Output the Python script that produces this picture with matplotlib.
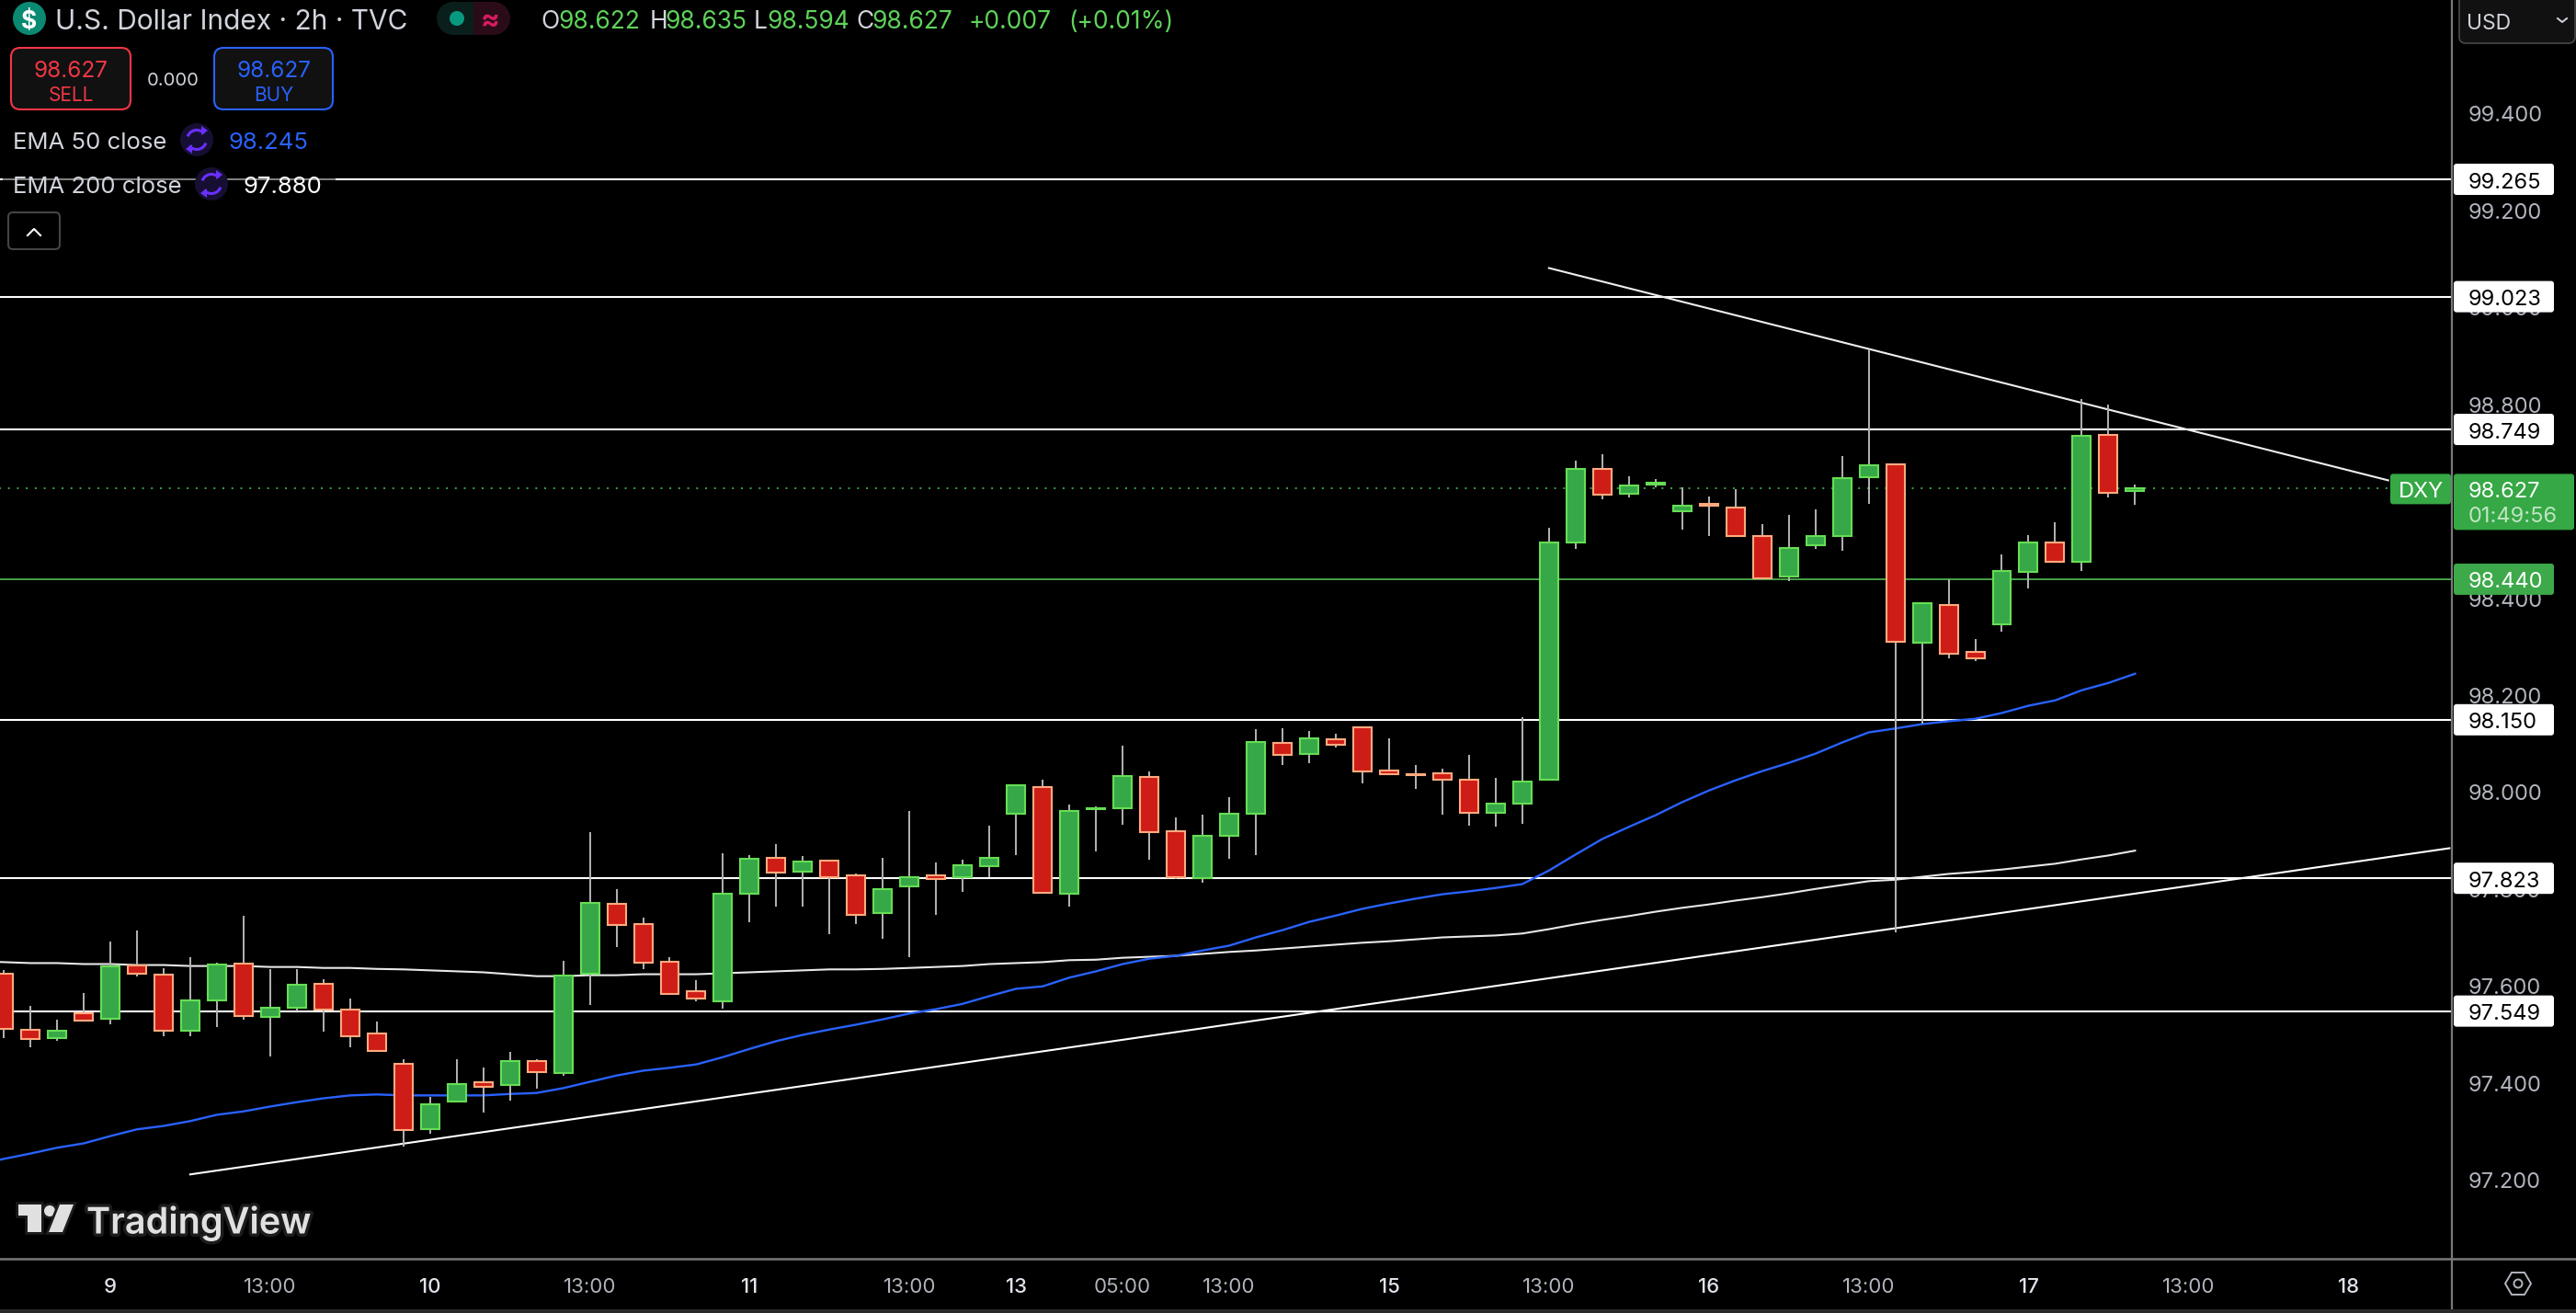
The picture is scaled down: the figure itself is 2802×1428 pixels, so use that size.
import numpy as np
import matplotlib
matplotlib.use('Agg')
import matplotlib.pyplot as plt
from matplotlib.patches import FancyBboxPatch, Rectangle, Circle, Ellipse, Polygon, Arc
import matplotlib.patheffects as pe

plt.rcParams['font.family'] = ['Inter', 'DejaVu Sans']

opens = [97.626,97.511,97.494,97.545,97.533,97.643,97.624,97.509,97.572,97.647,97.537,97.556,97.606,97.552,97.503,97.441,97.306,97.363,97.403,97.397,
         97.446,97.422,97.626,97.770,97.729,97.651,97.590,97.570,97.791,97.865,97.837,97.860,97.829,97.752,97.807,97.829,97.826,97.848,97.956,98.011,
         97.791,97.965,97.968,98.032,97.920,97.824,97.911,97.956,98.102,98.080,98.110,98.135,98.046,98.038,98.040,98.027,97.958,97.977,98.027,98.515,
         98.667,98.616,98.636,98.581,98.595,98.588,98.529,98.446,98.510,98.529,98.650,98.677,98.309,98.387,98.290,98.346,98.455,98.516,98.475,98.738,98.622]
highs = [97.633,97.559,97.532,97.587,97.693,97.716,97.638,97.661,97.648,97.746,97.635,97.636,97.614,97.574,97.528,97.449,97.371,97.449,97.432,97.464,
         97.449,97.652,97.919,97.800,97.741,97.661,97.612,97.874,97.870,97.893,97.868,97.860,97.832,97.866,97.961,97.856,97.862,97.932,98.015,98.027,
         97.976,97.972,98.097,98.044,97.948,97.955,97.991,98.130,98.133,98.126,98.122,98.135,98.111,98.056,98.050,98.077,98.031,98.156,98.547,98.684,
         98.697,98.652,98.646,98.629,98.610,98.625,98.553,98.572,98.585,98.695,98.914,98.677,98.393,98.439,98.317,98.492,98.530,98.558,98.811,98.800,98.635]
lows = [97.494,97.474,97.487,97.527,97.521,97.620,97.498,97.498,97.516,97.532,97.455,97.549,97.506,97.475,97.467,97.269,97.296,97.360,97.339,97.365,
        97.388,97.415,97.562,97.682,97.635,97.585,97.569,97.554,97.732,97.764,97.765,97.707,97.728,97.698,97.661,97.748,97.794,97.826,97.870,97.793,
        97.764,97.879,97.934,97.862,97.822,97.813,97.864,97.870,98.056,98.061,98.092,98.018,98.037,98.008,97.955,97.932,97.929,97.936,98.027,98.502,
        98.605,98.609,98.630,98.542,98.529,98.529,98.441,98.436,98.503,98.499,98.596,97.712,98.142,98.276,98.272,98.332,98.420,98.475,98.457,98.609,98.594]
closes = [97.513,97.492,97.509,97.530,97.642,97.626,97.509,97.571,97.645,97.539,97.556,97.604,97.552,97.497,97.467,97.304,97.357,97.399,97.393,97.446,
          97.423,97.623,97.772,97.727,97.649,97.585,97.575,97.791,97.864,97.835,97.858,97.826,97.748,97.801,97.826,97.822,97.850,97.865,98.015,97.793,
          97.962,97.968,98.034,97.919,97.826,97.911,97.956,98.104,98.078,98.112,98.099,98.044,98.037,98.035,98.026,97.958,97.977,98.023,98.516,98.667,
          98.614,98.633,98.639,98.591,98.592,98.529,98.441,98.505,98.529,98.649,98.675,98.311,98.391,98.286,98.277,98.457,98.516,98.475,98.736,98.618,98.627]

# both averages start one bar left of the first visible candle
ema50 = [97.232,97.244,97.255,97.267,97.276,97.291,97.305,97.312,97.322,97.335,97.342,97.352,97.361,97.369,97.375,97.377,97.375,97.375,97.375,97.375,97.378,
         97.380,97.390,97.403,97.416,97.426,97.432,97.439,97.454,97.471,97.487,97.500,97.511,97.521,97.532,97.544,97.553,97.564,97.580,97.595,97.600,
         97.618,97.631,97.646,97.657,97.663,97.674,97.684,97.701,97.716,97.733,97.746,97.760,97.771,97.781,97.790,97.796,97.803,97.811,97.839,97.872,
         97.904,97.929,97.953,97.980,98.004,98.025,98.044,98.061,98.080,98.103,98.124,98.132,98.141,98.147,98.152,98.164,98.179,98.190,98.211,98.226,98.245]
ema200 = [97.652,97.650,97.648,97.648,97.646,97.646,97.644,97.644,97.642,97.642,97.642,97.640,97.640,97.638,97.638,97.636,97.635,97.633,97.631,97.629,97.625,
          97.621,97.621,97.623,97.623,97.625,97.625,97.625,97.627,97.629,97.631,97.633,97.635,97.635,97.636,97.638,97.640,97.642,97.646,97.648,97.650,
          97.654,97.655,97.659,97.661,97.663,97.667,97.671,97.674,97.678,97.682,97.686,97.690,97.693,97.697,97.701,97.703,97.705,97.709,97.718,97.728,
          97.737,97.745,97.754,97.762,97.769,97.777,97.784,97.792,97.801,97.809,97.817,97.820,97.826,97.832,97.836,97.841,97.847,97.853,97.862,97.870,97.880]

white_levels = [99.265, 99.023, 98.749, 98.150, 97.823, 97.549]
green_level = 98.440
last_price = 98.627

rise_x = [7.0, 91.8]
rise_y = [97.212, 97.885]
fall_x = [58.0, 89.5]
fall_y = [99.082, 98.644]

price_ticks = [97.2, 97.4, 97.6, 97.8, 98.0, 98.2, 98.4, 98.8, 99.0, 99.2, 99.4]
time_pos = [4, 10, 16, 22, 28, 34, 38, 42, 46, 52, 58, 64, 70, 76, 82, 88]
time_labels = ['9', '13:00', '10', '13:00', '11', '13:00', '13', '05:00', '13:00', '15', '13:00', '16', '13:00', '17', '13:00', '18']

W, H = 2802, 1428
PLOT_W, PLOT_H = 2667, 1369
YMIN, YMAX = 97.038, 99.635
GREY = '#D1D4DC'
TICK = '#B2B5BE'
GREEN = '#36A845'
LIME = '#5FD35A'
RED = '#F23645'
BLUE = '#2962FF'

fig = plt.figure(figsize=(W / 100, H / 100), dpi=100, facecolor='black')
ax = fig.add_axes([0, (H - PLOT_H) / H, PLOT_W / W, PLOT_H / H], facecolor='black')
ax.set_xlim(-0.138, (PLOT_W - 4) / 28.98)
ax.set_ylim(YMIN, YMAX)

x = np.arange(len(opens))
o, h, l, c = map(np.array, (opens, highs, lows, closes))
up = c >= o
ema_x = np.arange(-1, len(opens))

for v in white_levels:
    ax.axhline(v, color='white', lw=1.5, zorder=1)
ax.axhline(green_level, color='#4CAF50', lw=1.3, zorder=1)
ax.plot([-1, 89.5], [last_price, last_price], color=GREEN, lw=1.4, ls=(0, (1, 4)), zorder=1)

ax.plot(ema_x, ema200, color='#E8E8E8', lw=1.5, zorder=2)
ax.plot(ema_x, ema50, color=BLUE, lw=1.7, zorder=2)
ax.plot(rise_x, rise_y, color='white', lw=1.5, zorder=2)
ax.plot(fall_x, fall_y, color='#EEEEEE', lw=1.5, zorder=2)

ax.vlines(x, l, h, color='#B4B4B4', lw=1.4, zorder=3)
ax.bar(x[up], (c - o)[up], bottom=o[up], width=0.69, color='#36A847', edgecolor='#66DD55', lw=1.5, zorder=4)
ax.bar(x[~up], (o - c)[~up], bottom=c[~up], width=0.69, color='#CE1D16', edgecolor='#FFAA7F', lw=1.5, zorder=4)

for s in ['top', 'left', 'right', 'bottom']:
    ax.spines[s].set_visible(False)
ax.yaxis.tick_right()
ax.set_yticks(price_ticks)
ax.set_yticklabels(['%.3f' % t for t in price_ticks])
ax.tick_params(axis='y', length=0, pad=13, labelsize=17, labelcolor=TICK)
ax.set_xticks(time_pos)
ax.set_xticklabels(time_labels)
ax.tick_params(axis='x', length=0, pad=15, labelsize=16, labelcolor=TICK)
for t in ax.get_xticklabels():
    if ':' not in t.get_text():
        t.set_color('#E0E3EB')
        t.set_fontweight('medium')

# everything that is screen furniture goes on an overlay in pixels
ui = fig.add_axes([0, 0, 1, 1], facecolor='none', zorder=5)
ui.set_xlim(0, W)
ui.set_ylim(H, 0)
ui.axis('off')


def price_y(v):
    return (YMAX - v) / (YMAX - YMIN) * PLOT_H


def box(x0, y0, x1, y1, r, fc, ec='none', lw=1.5, z=5):
    ui.add_patch(FancyBboxPatch((x0 + r, y0 + r), x1 - x0 - 2 * r, y1 - y0 - 2 * r,
                                boxstyle='round,pad=%g,rounding_size=%g' % (r, r),
                                fc=fc, ec=ec, lw=lw, zorder=z))


def txt(px, py, s, size, color, ha='left', weight='normal', z=7):
    return ui.text(px, py, s, fontsize=size, color=color, ha=ha, va='center_baseline', fontweight=weight, zorder=z)


def refresh(cx, cy):
    ui.add_patch(Circle((cx, cy), 18, fc='#170F33', ec='none', zorder=6))
    ui.add_patch(Arc((cx, cy), 21, 21, theta1=200, theta2=320, color='#6A2FFF', lw=2.2, zorder=7))
    ui.add_patch(Arc((cx, cy), 21, 21, theta1=20, theta2=140, color='#6A2FFF', lw=2.2, zorder=7))
    ui.add_patch(Polygon([(cx + 5, cy - 15), (cx + 5, cy - 5), (cx + 12, cy - 10)], fc='#6A2FFF', zorder=7))
    ui.add_patch(Polygon([(cx - 5, cy + 15), (cx - 5, cy + 5), (cx - 12, cy + 10)], fc='#6A2FFF', zorder=7))


# axis lines
ui.plot([PLOT_W, PLOT_W], [0, 1424], color='#787878', lw=1.6, zorder=4)
ui.plot([0, W], [PLOT_H, PLOT_H], color='#787878', lw=1.8, zorder=4)
ui.add_patch(Rectangle((0, 1424), W, 4, fc='#2A2A2A', ec='none', zorder=4))

# header
ui.add_patch(Circle((32, 20), 18, fc='#0A8A72', ec='none', zorder=6))
txt(32, 21, '$', 19, 'white', ha='center', weight='bold')
txt(60, 21, 'U.S. Dollar Index · 2h · TVC', 21.5, GREY)
ui.add_patch(Rectangle((493, 2), 22, 36, fc='#0A1F1C', ec='none', zorder=5))
ui.add_patch(Rectangle((515, 2), 22, 36, fc='#2A0C18', ec='none', zorder=5))
ui.add_patch(Circle((493, 20), 18, fc='#0A1F1C', ec='none', zorder=5))
ui.add_patch(Circle((537, 20), 18, fc='#2A0C18', ec='none', zorder=5))
ui.add_patch(Ellipse((497, 20), 16, 16, fc='#089981', ec='none', zorder=6))
txt(533, 20, '≈', 22, '#D81B60', ha='center', weight='bold')

ohlc = [(588, 'O', GREY), (607, '98.622', LIME), (707, 'H', GREY), (723, '98.635', LIME), (820, 'L', GREY), (834, '98.594', LIME),
        (931, 'C', GREY), (948, '98.627', LIME), (1054, '+0.007', LIME), (1162, '(+0.01%)', LIME)]
for px, s, col in ohlc:
    txt(px, 21, s, 19, col)

# sell / buy
box(12, 52, 142, 119, 10, '#111111', RED, 1.5)
txt(77, 75, '98.627', 17.5, RED, ha='center')
txt(77, 102, 'SELL', 15, RED, ha='center')
txt(188, 86, '0.000', 14.5, GREY, ha='center')
box(233, 52, 362, 119, 10, '#111111', BLUE, 1.5)
txt(298, 75, '98.627', 17.5, BLUE, ha='center')
txt(298, 102, 'BUY', 15, BLUE, ha='center')

# indicators
ui.add_patch(Rectangle((3, 190), 362, 9, fc='black', alpha=0.5, ec='none', zorder=5))
txt(14, 153, 'EMA 50 close', 18.5, GREY)
refresh(214, 152)
txt(248, 153, '98.245', 18.5, BLUE)
txt(14, 201, 'EMA 200 close', 18.5, GREY)
refresh(230, 200)
txt(265, 201, '97.880', 18.5, 'white')
box(9, 231, 65, 271, 5, 'black', '#444444', 1.5)
ui.plot([30, 37, 44], [256, 249, 256], color='white', lw=1.5, zorder=7)

# USD box
box(2675, -10, 2801, 47, 7, '#111111', '#444444', 1.3)
txt(2683, 23, 'USD', 16.5, GREY)
ui.plot([2782, 2787, 2792], [20, 24, 20], color=GREY, lw=1.4, zorder=7)

# level tags on the price scale
for v in white_levels + [green_level]:
    y = price_y(v)
    fc = '#3DA94A' if v == green_level else 'white'
    box(2669, y - 17, 2778, y + 17, 3, fc, z=6)
    txt(2685, y + 1, '%.3f' % v, 17, 'white' if v == green_level else 'black')

y = price_y(last_price)
box(2669, y - 16, 2800, y + 45, 3, GREEN, z=6)
txt(2685, y + 1, '%.3f' % last_price, 17, 'white')
txt(2685, y + 28, '01:49:56', 17, '#BFE5C4')
box(2600, y - 16, 2666, y + 17, 3, GREEN, z=6)
txt(2633, y + 1, 'DXY', 17, 'white', ha='center')

# watermark
halo = [pe.withStroke(linewidth=5, foreground='#1C1C1C')]
mark = '#E0E0E0'
logo = [Polygon([(20, 1310), (45, 1310), (45, 1340), (30, 1340), (30, 1322), (20, 1322)], fc=mark, ec='none', zorder=6),
        Circle((54, 1317), 6, fc=mark, ec='none', zorder=6),
        Polygon([(65, 1310), (80, 1310), (68, 1340), (53, 1340)], fc=mark, ec='none', zorder=6)]
for p in logo:
    p.set_path_effects([pe.withStroke(linewidth=4, foreground='#1C1C1C')])
    ui.add_patch(p)
wm = txt(94, 1326, 'TradingView', 28.5, mark, weight='semibold')
wm.set_path_effects(halo)

# settings hexagon
hex_x = [2725, 2732, 2746, 2753, 2746, 2732]
hex_y = [1396, 1384, 1384, 1396, 1408, 1408]
ui.add_patch(Polygon(np.column_stack([hex_x, hex_y]), fc='none', ec=TICK, lw=1.4, zorder=6))
ui.add_patch(Ellipse((2739, 1396), 9, 9, fc='none', ec=TICK, lw=1.4, zorder=6))

fig.savefig('out.png', dpi=100, facecolor='black')
